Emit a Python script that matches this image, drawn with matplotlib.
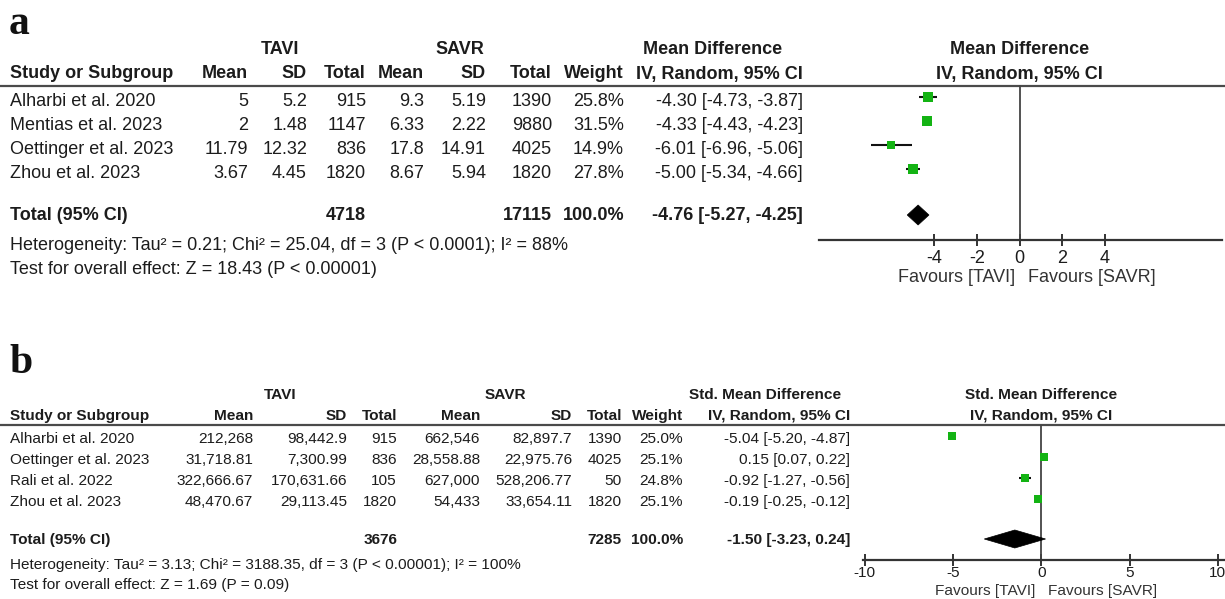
import matplotlib
matplotlib.use("Agg")
import matplotlib.pyplot as plt
from matplotlib.patches import Polygon

plt.rcParams['font.family'] = ['Liberation Sans', 'DejaVu Sans']

# ---------------- panel a: length of stay (mean difference) ----------------
a_studies = ["Alharbi et al. 2020", "Mentias et al. 2023", "Oettinger et al. 2023", "Zhou et al. 2023"]
a_tavi_mean = ["5", "2", "11.79", "3.67"]
a_tavi_sd = ["5.2", "1.48", "12.32", "4.45"]
a_tavi_n = [915, 1147, 836, 1820]
a_savr_mean = ["9.3", "6.33", "17.8", "8.67"]
a_savr_sd = ["5.19", "2.22", "14.91", "5.94"]
a_savr_n = [1390, 9880, 4025, 1820]
a_weight = [25.8, 31.5, 14.9, 27.8]
a_est = [-4.30, -4.33, -6.01, -5.00]
a_lo = [-4.73, -4.43, -6.96, -5.34]
a_hi = [-3.87, -4.23, -5.06, -4.66]
a_pooled = [-4.76, -5.27, -4.25]
a_ticks = [-4, -2, 0, 2, 4]
a_het = "Heterogeneity: Tau² = 0.21; Chi² = 25.04, df = 3 (P < 0.0001); I² = 88%"
a_test = "Test for overall effect: Z = 18.43 (P < 0.00001)"

# ---------------- panel b: costs (standardised mean difference) ----------------
b_studies = ["Alharbi et al. 2020", "Oettinger et al. 2023", "Rali et al. 2022", "Zhou et al. 2023"]
b_tavi_mean = ["212,268", "31,718.81", "322,666.67", "48,470.67"]
b_tavi_sd = ["98,442.9", "7,300.99", "170,631.66", "29,113.45"]
b_tavi_n = [915, 836, 105, 1820]
b_savr_mean = ["662,546", "28,558.88", "627,000", "54,433"]
b_savr_sd = ["82,897.7", "22,975.76", "528,206.77", "33,654.11"]
b_savr_n = [1390, 4025, 50, 1820]
b_weight = [25.0, 25.1, 24.8, 25.1]
b_est = [-5.04, 0.15, -0.92, -0.19]
b_lo = [-5.20, 0.07, -1.27, -0.25]
b_hi = [-4.87, 0.22, -0.56, -0.12]
b_pooled = [-1.50, -3.23, 0.24]
b_ticks = [-10, -5, 0, 5, 10]
b_het = "Heterogeneity: Tau² = 3.13; Chi² = 3188.35, df = 3 (P < 0.00001); I² = 100%"
b_test = "Test for overall effect: Z = 1.69 (P = 0.09)"

W, H, DPI = 1225, 599, 100
TXT = '#1c1c1c'
GREEN = '#13b313'

fig = plt.figure(figsize=(W / DPI, H / DPI), dpi=DPI)
bg = fig.add_axes([0, 0, 1, 1])
bg.set_xlim(0, W)
bg.set_ylim(H, 0)
bg.axis('off')


def put(x, y, s, size, ha='left', bold=False, color=TXT):
    bg.text(x, y, s, fontsize=size, ha=ha, va='center', color=color,
            fontweight='bold' if bold else 'normal')


def ci_text(e, lo, hi):
    return f"{e:.2f} [{lo:.2f}, {hi:.2f}]"


def panel(letter, letter_y, fs, cols, ys, studies, tm, tsd, tn, sm, ssd, sn,
          weight, est, lo, hi, pooled, het, test, title, forest, ticks, sq_k):
    (c_mean1, c_sd1, c_n1, c_mean2, c_sd2, c_n2, c_w, c_ci, c_tavi, c_savr,
     c_title) = cols
    (y_grp, y_hdr, y_line, rows, y_tot, y_het, y_test) = ys
    bg.text(9, letter_y, letter, fontsize=30, fontweight='bold',
            family='Liberation Serif', va='center', ha='left', color='#111111')

    put(c_tavi, y_grp, "TAVI", fs, 'center', True)
    put(c_savr, y_grp, "SAVR", fs, 'center', True)
    put(c_title, y_grp, title, fs, 'center', True)
    put(10, y_hdr, "Study or Subgroup", fs, bold=True)
    for x, s in [(c_mean1, "Mean"), (c_sd1, "SD"), (c_n1, "Total"),
                 (c_mean2, "Mean"), (c_sd2, "SD"), (c_n2, "Total"),
                 (c_w, "Weight")]:
        put(x, y_hdr, s, fs, 'right', True)
    put(c_ci, y_hdr, "IV, Random, 95% CI", fs, 'right', True)
    bg.plot([0, W], [y_line, y_line], color='#4a4a4a', lw=1.6,
            solid_capstyle='butt')

    for i, name in enumerate(studies):
        y = rows[i]
        put(10, y, name, fs)
        put(c_mean1, y, tm[i], fs, 'right')
        put(c_sd1, y, tsd[i], fs, 'right')
        put(c_n1, y, str(tn[i]), fs, 'right')
        put(c_mean2, y, sm[i], fs, 'right')
        put(c_sd2, y, ssd[i], fs, 'right')
        put(c_n2, y, str(sn[i]), fs, 'right')
        put(c_w, y, f"{weight[i]:.1f}%", fs, 'right')
        put(c_ci, y, ci_text(est[i], lo[i], hi[i]), fs, 'right')

    put(10, y_tot, "Total (95% CI)", fs, bold=True)
    put(c_n1, y_tot, str(sum(tn)), fs, 'right', True)
    put(c_n2, y_tot, str(sum(sn)), fs, 'right', True)
    put(c_w, y_tot, f"{sum(weight):.1f}%", fs, 'right', True)
    put(c_ci, y_tot, ci_text(*pooled), fs, 'right', True)
    put(10, y_het, het, fs)
    put(10, y_test, test, fs)

    # forest plot
    (px0, px1, xlim, y_axis, fav_gap, tick_fs, fav_y, diam_h, mk_dy,
     tick_pad) = forest
    ax = fig.add_axes([px0 / W, 1 - y_axis / H, (px1 - px0) / W,
                       (y_axis - y_line) / H])
    ax.set_xlim(*xlim)
    ax.set_ylim(y_axis, y_line)
    ax.patch.set_alpha(0)
    for s in ('top', 'left', 'right'):
        ax.spines[s].set_visible(False)
    ax.spines['bottom'].set_linewidth(1.6)
    ax.spines['bottom'].set_color('#333333')
    ax.set_yticks([])
    ax.set_xticks(ticks)
    ax.set_xticklabels([f"{t:g}" for t in ticks])
    ax.tick_params(axis='x', direction='inout', length=8, width=1.4,
                   color='#333333', labelsize=tick_fs, labelcolor=TXT,
                   pad=tick_pad)
    ax.axvline(0, color='#444444', lw=1.3)
    for i in range(len(studies)):
        y = rows[i] - mk_dy
        ax.plot([lo[i], hi[i]], [y, y], color='#111111', lw=1.5,
                solid_capstyle='butt', zorder=2)
        side_px = sq_k * weight[i] ** 0.5
        ax.plot([est[i]], [y], marker='s', ms=side_px * 0.72, color=GREEN,
                mec=GREEN, mew=0, zorder=3)
    e, l, h = pooled
    yc = y_tot - 1
    ax.add_patch(Polygon([[l, yc], [e, yc - diam_h / 2], [h, yc],
                          [e, yc + diam_h / 2]], closed=True,
                         facecolor='black', edgecolor='black', lw=0.5,
                         zorder=3))

    zero_px = px0 + (0 - xlim[0]) / (xlim[1] - xlim[0]) * (px1 - px0)
    put(zero_px - fav_gap[0], fav_y, "Favours [TAVI]", tick_fs, 'right',
        color='#333333')
    put(zero_px + fav_gap[1], fav_y, "Favours [SAVR]", tick_fs, 'left',
        color='#333333')
    put(zero_px, y_grp, title, fs, 'center', True)
    put(zero_px, y_hdr, "IV, Random, 95% CI", fs, 'center', True)


panel("a", 24, 13,
      (248, 307, 366, 424, 486, 552, 624, 803, 280, 460, 713),
      (50, 74, 85.5, [101, 125, 149, 173], 216, 245, 269),
      a_studies, a_tavi_mean, a_tavi_sd, a_tavi_n, a_savr_mean, a_savr_sd,
      a_savr_n, a_weight, a_est, a_lo, a_hi, a_pooled, a_het, a_test,
      "Mean Difference",
      (819, 1222, (-9.41, 9.5), 240, (4, 8), 13, 277, 20, 4, 3.5),
      a_ticks, 1.95)

panel("b", 363, 11.1,
      (253, 347, 397, 480, 572, 622, 683, 850, 280, 505, 765),
      (395, 416, 424.5, [439, 460, 481, 502], 540, 565, 585),
      b_studies, b_tavi_mean, b_tavi_sd, b_tavi_n, b_savr_mean, b_savr_sd,
      b_savr_n, b_weight, b_est, b_lo, b_hi, b_pooled, b_het, b_test,
      "Std. Mean Difference",
      (863, 1224, (-10.1, 10.35), 560, (6, 7), 11.1, 591, 18, 3, 0.5),
      b_ticks, 1.55)

fig.savefig("out.png", dpi=DPI, facecolor='white')
